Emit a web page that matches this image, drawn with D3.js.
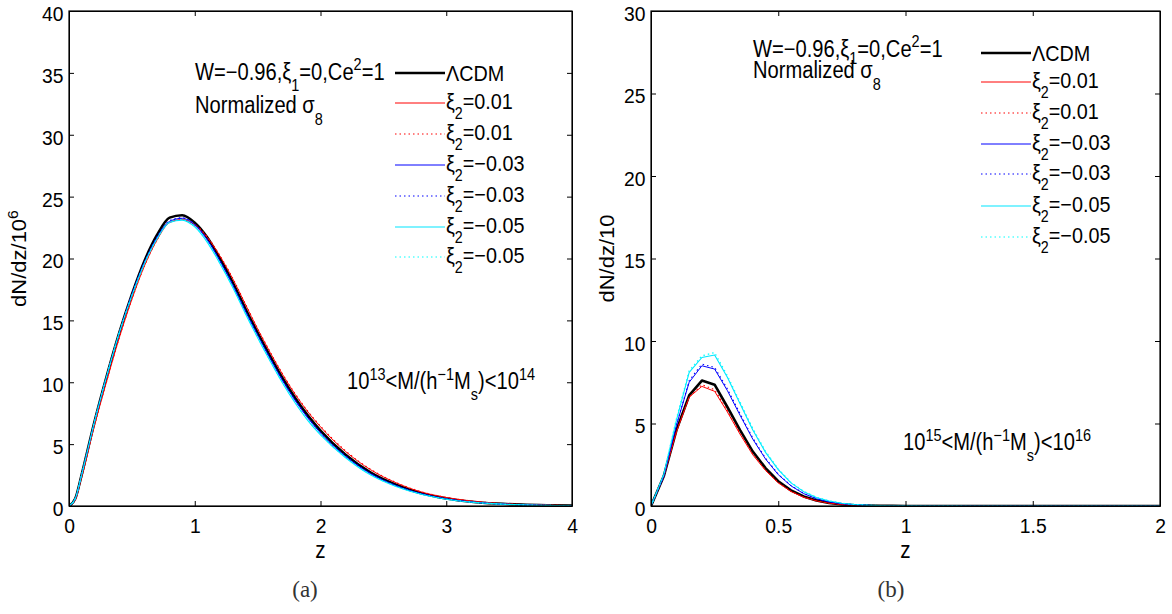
<!DOCTYPE html>
<html>
<head>
<meta charset="utf-8">
<script src="https://cdn.jsdelivr.net/npm/d3@7"></script>
<style>
html, body { margin: 0; padding: 0; background: #fff; }
svg { display: block; font-family: "Liberation Sans", Arial, Helvetica, sans-serif; }
</style>
</head>
<body>
<svg id="chart" width="1172" height="614"></svg>
<script>
// ---- data: panel (a), 10^13 < M < 10^14 ----
const zA = [0, 0.05, 0.1, 0.2, 0.3, 0.4, 0.5, 0.6, 0.7, 0.8, 0.9, 1.0, 1.1, 1.2, 1.3, 1.4, 1.5, 1.6, 1.7, 1.8, 1.9, 2.0, 2.2, 2.4, 2.6, 2.8, 3.0, 3.2, 3.4, 3.6, 3.8, 4.0];
const lcdmA    = [0, 0.6, 2.5, 6.7, 10.5, 14.0, 17.1, 19.8, 21.9, 23.3, 23.5, 22.9, 21.7, 20.0, 18.1, 16.0, 14.0, 12.1, 10.3, 8.7, 7.3, 6.1, 4.15, 2.7, 1.72, 1.03, 0.61, 0.35, 0.2, 0.11, 0.06, 0.03];
const xi001A   = [0, 0.5, 2.3, 6.4, 10.1, 13.6, 16.7, 19.4, 21.5, 22.9, 23.15, 22.7, 21.7, 20.2, 18.4, 16.35, 14.3, 12.4, 10.6, 9.0, 7.6, 6.4, 4.4, 2.92, 1.88, 1.14, 0.69, 0.4, 0.22, 0.12, 0.07, 0.03];
const xi001dA  = [0, 0.5, 2.3, 6.4, 10.1, 13.6, 16.7, 19.4, 21.5, 22.95, 23.2, 22.75, 21.75, 20.25, 18.45, 16.4, 14.35, 12.45, 10.65, 9.05, 7.65, 6.45, 4.45, 2.96, 1.9, 1.16, 0.7, 0.41, 0.23, 0.12, 0.07, 0.03];
const xim003A  = [0, 0.6, 2.5, 6.7, 10.5, 14.0, 17.1, 19.7, 21.7, 23.0, 23.25, 22.7, 21.5, 19.8, 17.9, 15.8, 13.8, 11.9, 10.1, 8.5, 7.1, 5.9, 4.0, 2.6, 1.65, 1.0, 0.58, 0.33, 0.18, 0.1, 0.05, 0.02];
const xim003dA = [0, 0.6, 2.5, 6.7, 10.5, 14.0, 17.1, 19.7, 21.75, 23.05, 23.3, 22.75, 21.55, 19.85, 17.95, 15.85, 13.85, 11.95, 10.15, 8.55, 7.15, 5.95, 4.05, 2.62, 1.66, 1.0, 0.58, 0.33, 0.18, 0.1, 0.05, 0.02];
const xim005A  = [0, 0.6, 2.5, 6.7, 10.5, 14.0, 17.0, 19.6, 21.6, 22.9, 23.1, 22.55, 21.3, 19.6, 17.7, 15.6, 13.6, 11.7, 9.9, 8.3, 6.9, 5.75, 3.9, 2.5, 1.58, 0.95, 0.55, 0.31, 0.17, 0.09, 0.05, 0.02];
const xim005dA = [0, 0.6, 2.5, 6.7, 10.5, 14.0, 17.0, 19.6, 21.6, 22.95, 23.15, 22.6, 21.35, 19.65, 17.75, 15.65, 13.65, 11.75, 9.95, 8.35, 6.95, 5.8, 3.92, 2.52, 1.6, 0.96, 0.56, 0.31, 0.17, 0.09, 0.05, 0.02];

// ---- data: panel (b), 10^15 < M < 10^16 ----
const zB = [0, 0.05, 0.1, 0.15, 0.2, 0.25, 0.3, 0.35, 0.4, 0.45, 0.5, 0.55, 0.6, 0.65, 0.7, 0.75, 0.8, 0.85, 0.9, 0.95, 1.0, 1.25, 1.5, 1.75, 2.0];
const lcdmB    = [0, 1.8, 4.6, 6.7, 7.6, 7.35, 6.0, 4.6, 3.3, 2.3, 1.5, 0.95, 0.58, 0.34, 0.19, 0.1, 0.05, 0.025, 0.012, 0.006, 0.003, 0, 0, 0, 0];
const xi001B   = [0, 1.8, 4.5, 6.6, 7.25, 6.95, 5.7, 4.35, 3.1, 2.15, 1.4, 0.88, 0.53, 0.31, 0.17, 0.09, 0.045, 0.022, 0.01, 0.005, 0.002, 0, 0, 0, 0];
const xi001dB  = [0, 1.8, 4.5, 6.6, 7.35, 7.05, 5.8, 4.42, 3.16, 2.18, 1.42, 0.9, 0.54, 0.32, 0.17, 0.09, 0.046, 0.022, 0.01, 0.005, 0.002, 0, 0, 0, 0];
const xim003B  = [0, 1.8, 4.9, 7.5, 8.5, 8.3, 7.0, 5.5, 4.05, 2.85, 1.9, 1.22, 0.75, 0.44, 0.25, 0.14, 0.075, 0.04, 0.02, 0.01, 0.005, 0, 0, 0, 0];
const xim003dB = [0, 1.8, 4.9, 7.6, 8.6, 8.4, 7.1, 5.6, 4.12, 2.9, 1.93, 1.24, 0.77, 0.45, 0.26, 0.14, 0.077, 0.04, 0.02, 0.01, 0.005, 0, 0, 0, 0];
const xim005B  = [0, 1.9, 5.2, 8.1, 9.0, 9.15, 7.8, 6.2, 4.6, 3.25, 2.2, 1.4, 0.87, 0.52, 0.3, 0.17, 0.09, 0.05, 0.025, 0.012, 0.006, 0.001, 0, 0, 0];
const xim005dB = [0, 1.9, 5.3, 8.2, 9.1, 9.3, 7.9, 6.3, 4.7, 3.32, 2.25, 1.43, 0.89, 0.53, 0.31, 0.17, 0.09, 0.05, 0.025, 0.012, 0.006, 0.001, 0, 0, 0];

// ---- labels and ticks ----
const legendLabels = ['ΛCDM', 'ξ_{2}=0.01', 'ξ_{2}=0.01', 'ξ_{2}=−0.03', 'ξ_{2}=−0.03', 'ξ_{2}=−0.05', 'ξ_{2}=−0.05'];
const xTicksA = [0, 1, 2, 3, 4];
const yTicksA = [0, 5, 10, 15, 20, 25, 30, 35, 40];
const xTicksB = [0, 0.5, 1, 1.5, 2];
const yTicksB = [0, 5, 10, 15, 20, 25, 30];

// line styles, same order as the legend
const lineColors = ['#000', '#ff0000', '#ff0000', '#0000ff', '#0000ff', '#00e5ff', '#00ffff'];
const lineDash = [null, null, '1.5,3', null, '1.5,3', null, '1.5,3'];
const lineWidth = [2.6, 1, 1.1, 1, 1.1, 1.1, 1.2];

const svg = d3.select('#chart');

// parse "ξ_{2}=0.01" / "Ce^{2}" into plain, sub and sup runs
function richText(parent, x, y, str, size, sx, opts = {}) {
    const g = parent.append('g')
        .attr('transform', `translate(${x},${y}) scale(${sx},1)` + (opts.rotate ? ` rotate(${opts.rotate})` : ''));
    const t = g.append('text')
        .attr('font-size', size)
        .attr('fill', '#000')
        .attr('text-anchor', opts.anchor || 'start');
    const subDrop = opts.subDrop != null ? opts.subDrop : size * 0.5;
    const supRise = opts.supRise != null ? opts.supRise : size * 0.42;
    let shift = 0;
    const re = /(_|\^)\{([^}]*)\}|[^_^]+/g;
    let m;
    while ((m = re.exec(str)) !== null) {
        let target = 0, txt = m[0], fs = size;
        if (m[1] === '_') { target = subDrop; txt = m[2]; fs = size * 0.72; }
        else if (m[1] === '^') { target = -supRise; txt = m[2]; fs = size * 0.72; }
        t.append('tspan').attr('dy', target - shift).attr('font-size', fs).text(txt);
        shift = target;
    }
    return t;
}

function drawPanel(p) {
    const x = d3.scaleLinear().domain(p.xDomain).range([p.left, p.right]);
    const y = d3.scaleLinear().domain(p.yDomain).range([p.bottom, p.top]);
    const g = svg.append('g');

    const clipId = 'clip-' + p.id;
    g.append('clipPath').attr('id', clipId)
        .append('rect')
        .attr('x', p.left).attr('y', p.top)
        .attr('width', p.right - p.left).attr('height', p.bottom - p.top);

    // curves
    const line = d3.line()
        .x((d, i) => x(p.z[i]))
        .y(d => y(d))
        .curve(p.curve);
    const plot = g.append('g').attr('clip-path', `url(#${clipId})`);
    p.series.forEach((s, i) => {
        plot.append('path')
            .datum(s)
            .attr('d', line)
            .attr('fill', 'none')
            .attr('stroke', lineColors[i])
            .attr('stroke-width', lineWidth[i])
            .attr('stroke-dasharray', lineDash[i])
            .attr('stroke-linejoin', 'round');
    });

    // axes, ticks inward on all four sides
    const fmt = d => String(d);
    const bottom = g.append('g')
        .attr('transform', `translate(0,${p.bottom})`)
        .call(d3.axisBottom(x).tickValues(p.xTicks).tickFormat(fmt).tickSize(-5).tickSizeOuter(0));
    bottom.selectAll('text')
        .attr('y', 27).attr('dy', null)
        .attr('font-size', 21)
        .attr('font-family', '"Liberation Sans", Arial, sans-serif')
        .attr('fill', '#000')
        .attr('transform', 'scale(0.92,1)');

    const left = g.append('g')
        .attr('transform', `translate(${p.left},0)`)
        .call(d3.axisLeft(y).tickValues(p.yTicks).tickFormat(fmt).tickSize(-5).tickSizeOuter(0));
    left.selectAll('text')
        .attr('x', -6).attr('dy', '0.45em')
        .attr('font-size', 21)
        .attr('font-family', '"Liberation Sans", Arial, sans-serif')
        .attr('fill', '#000')
        .attr('transform', 'scale(0.92,1)');

    g.append('g')
        .attr('transform', `translate(0,${p.top})`)
        .call(d3.axisTop(x).tickValues(p.xTicks).tickFormat('').tickSize(-5).tickSizeOuter(0));
    g.append('g')
        .attr('transform', `translate(${p.right},0)`)
        .call(d3.axisRight(y).tickValues(p.yTicks).tickFormat('').tickSize(-5).tickSizeOuter(0));

    g.selectAll('.tick line').attr('stroke', '#000');
    g.selectAll('.domain').attr('stroke', '#000');

    g.append('rect')
        .attr('x', p.left).attr('y', p.top)
        .attr('width', p.right - p.left).attr('height', p.bottom - p.top)
        .attr('fill', 'none').attr('stroke', '#000').attr('stroke-width', 1.2);

    // axis labels
    richText(g, (p.left + p.right) / 2, 558, 'z', 23, 0.9, { anchor: 'middle' });
    richText(g, p.yLabelX, (p.top + p.bottom) / 2, p.yLabel, 22, 0.9, { anchor: 'middle', rotate: -90, supRise: 9 });

    // annotations
    richText(g, p.infoX, p.infoY1, 'W=−0.96,ξ_{1}=0,Ce^{2}=1', 23, 0.875, { subDrop: p.infoSub, supRise: 10 });
    richText(g, p.infoX, p.infoY2, 'Normalized σ_{8}', 23, 0.875, { subDrop: 12 });
    richText(g, p.massX, p.massY, p.massText, 23, 0.875, { subDrop: 11, supRise: 9 });

    // legend
    legendLabels.forEach((lab, i) => {
        const ly = p.legendY[i];
        g.append('line')
            .attr('x1', p.legendX).attr('x2', p.legendX + 50)
            .attr('y1', ly).attr('y2', ly)
            .attr('stroke', lineColors[i])
            .attr('stroke-width', lineWidth[i])
            .attr('stroke-dasharray', lineDash[i]);
        richText(g, p.legendX + 51, ly + (i === 0 ? 8 : 5.5), lab, 22, 0.9, { subDrop: 10 });
    });

    // caption
    g.append('text')
        .attr('x', p.captionX).attr('y', 597)
        .attr('text-anchor', 'middle')
        .attr('font-family', '"Liberation Serif", "DejaVu Serif", serif')
        .attr('font-size', 23)
        .attr('fill', '#333')
        .text(p.caption);
}

drawPanel({
    id: 'a', left: 69, right: 572, top: 11, bottom: 506,
    xDomain: [0, 4], yDomain: [0, 40], xTicks: xTicksA, yTicks: yTicksA,
    z: zA, series: [lcdmA, xi001A, xi001dA, xim003A, xim003dA, xim005A, xim005dA],
    curve: d3.curveMonotoneX,
    yLabel: 'dN/dz/10^{6}', yLabelX: 26,
    infoX: 195, infoY1: 80, infoY2: 113, infoSub: 11,
    massX: 347, massY: 389, massText: '10^{13}<M/(h^{−1}M_{s})<10^{14}',
    legendX: 395, legendY: [73, 103, 134, 165, 196, 227, 257],
    caption: '(a)', captionX: 305
});

drawPanel({
    id: 'b', left: 651, right: 1160, top: 11, bottom: 506,
    xDomain: [0, 2], yDomain: [0, 30], xTicks: xTicksB, yTicks: yTicksB,
    z: zB, series: [lcdmB, xi001B, xi001dB, xim003B, xim003dB, xim005B, xim005dB],
    curve: d3.curveLinear,
    yLabel: 'dN/dz/10', yLabelX: 614,
    infoX: 753, infoY1: 57, infoY2: 78, infoSub: 7,
    massX: 903, massY: 450, massText: '10^{15}<M/(h^{−1}M_{s})<10^{16}',
    legendX: 981, legendY: [53, 82, 113, 144, 174, 206, 237],
    caption: '(b)', captionX: 891
});
</script>
</body>
</html>
